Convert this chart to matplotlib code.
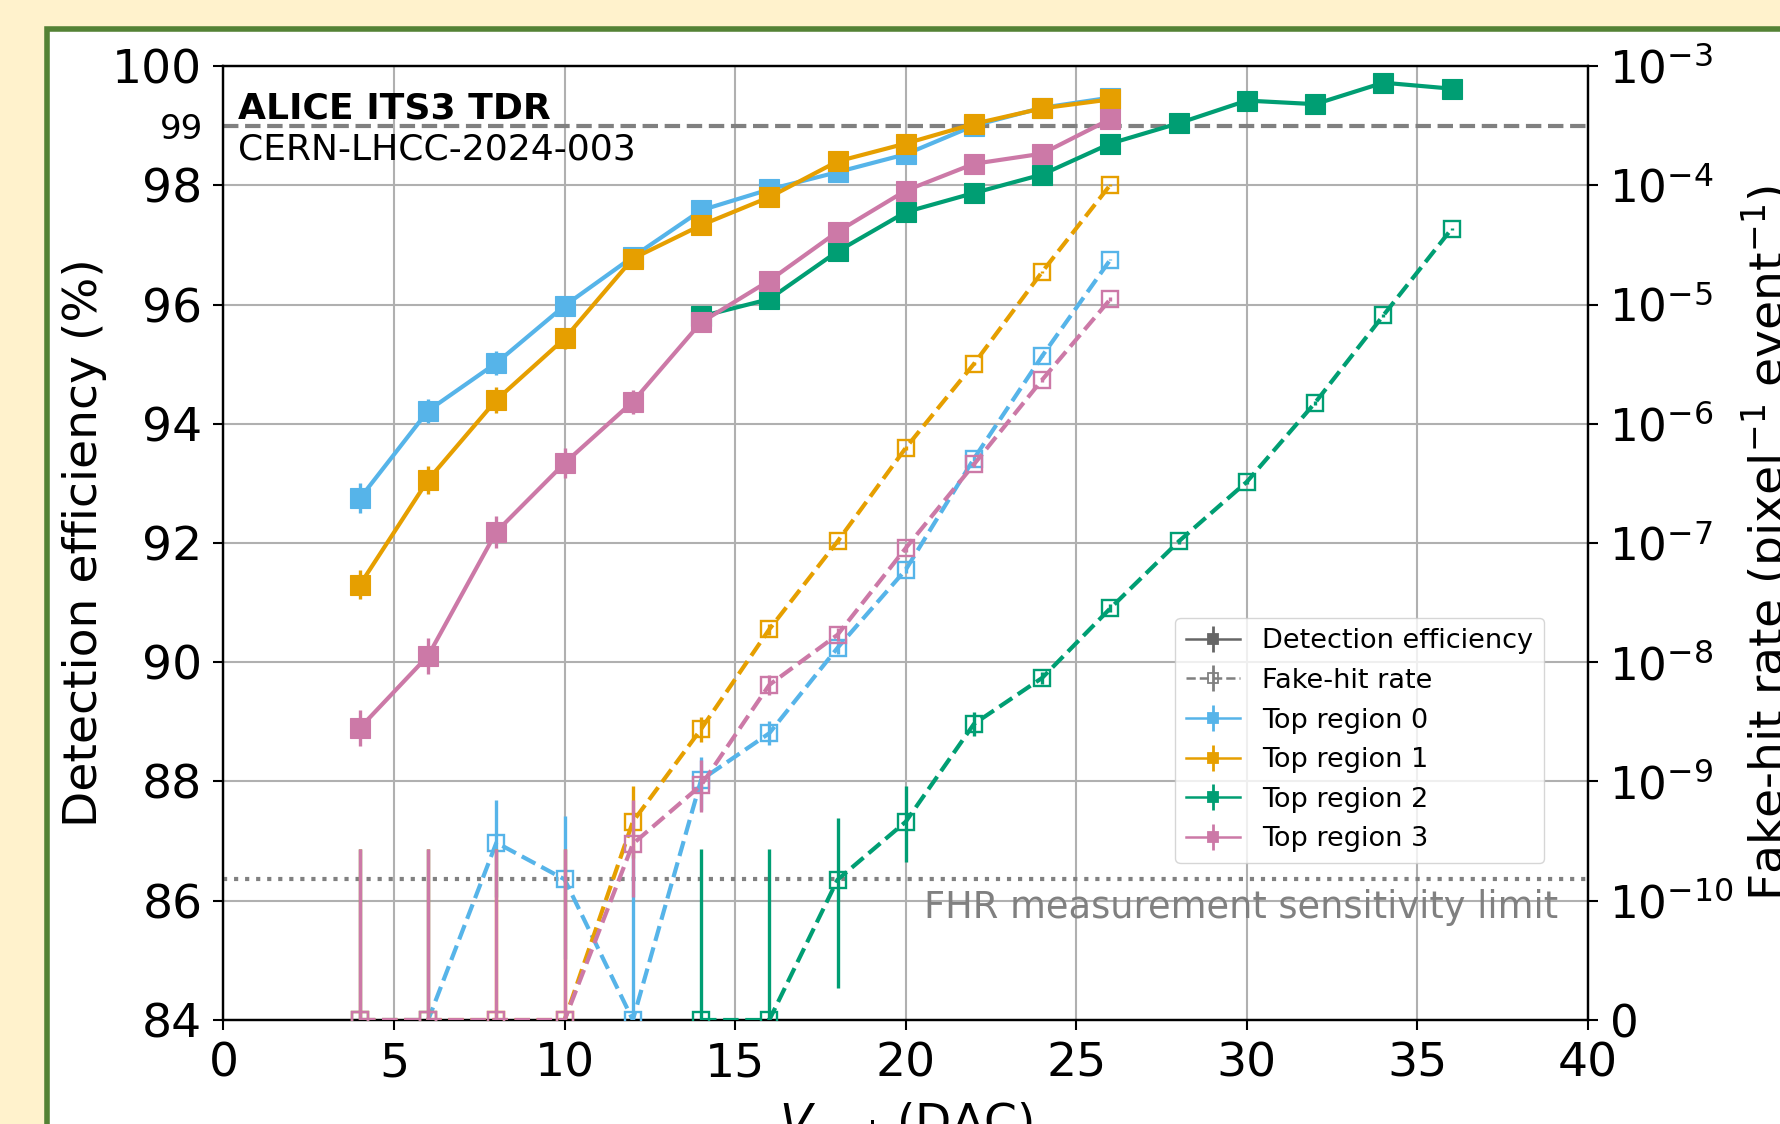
import numpy as np
import matplotlib
matplotlib.use("Agg")
import matplotlib.pyplot as plt
from matplotlib.lines import Line2D
from matplotlib.patches import Rectangle
from matplotlib.ticker import FixedLocator, NullLocator

# ---------------- data ----------------
vcast_r0 = [4, 6, 8, 10, 12, 14, 16, 18, 20, 22, 24, 26]
vcast_r1 = [4, 6, 8, 10, 12, 14, 16, 18, 20, 22, 24, 26]
vcast_r2 = [14, 16, 18, 20, 22, 24, 26, 28, 30, 32, 34, 36]
vcast_r3 = [4, 6, 8, 10, 12, 14, 16, 18, 20, 22, 24, 26]

eff_r0 = [92.75, 94.22, 95.02, 95.98, 96.80, 97.58, 97.93, 98.22, 98.52, 99.00, 99.30, 99.47]
eff_r1 = [91.30, 93.06, 94.40, 95.43, 96.77, 97.33, 97.80, 98.40, 98.70, 99.03, 99.29, 99.44]
eff_r2 = [95.80, 96.09, 96.89, 97.55, 97.87, 98.18, 98.70, 99.04, 99.42, 99.36, 99.72, 99.62]
eff_r3 = [88.90, 90.11, 92.19, 93.34, 94.37, 95.70, 96.40, 97.22, 97.91, 98.36, 98.53, 99.11]

eff_err_r0 = [0.25, 0.20, 0.20, 0.15, 0.12, 0.10, 0.10, 0.08, 0.08, 0.06, 0.05, 0.05]
eff_err_r1 = [0.24, 0.23, 0.22, 0.18, 0.14, 0.12, 0.10, 0.08, 0.08, 0.06, 0.05, 0.05]
eff_err_r2 = [0.15, 0.14, 0.12, 0.10, 0.10, 0.08, 0.07, 0.06, 0.05, 0.05, 0.04, 0.04]
eff_err_r3 = [0.30, 0.30, 0.27, 0.25, 0.20, 0.15, 0.13, 0.12, 0.10, 0.08, 0.07, 0.06]

fhr_r0 = [0, 0, 3.07e-10, 1.51e-10, 0, 1.03e-9, 2.54e-9, 1.32e-8, 5.97e-8, 5.1e-7, 3.7e-6, 2.38e-5]
fhr_r1 = [0, 0, 0, 0, 4.6e-10, 2.75e-9, 1.89e-8, 1.03e-7, 6.27e-7, 3.18e-6, 1.88e-5, 1.01e-4]
fhr_r2 = [0, 0, 1.5e-10, 4.6e-10, 3.04e-9, 7.4e-9, 2.84e-8, 1.03e-7, 3.26e-7, 1.5e-6, 8.1e-6, 4.3e-5]
fhr_r3 = [0, 0, 0, 0, 3.0e-10, 9.3e-10, 6.46e-9, 1.7e-8, 9.06e-8, 4.57e-7, 2.34e-6, 1.11e-5]

fhr_lo_r0 = [0, 0, 2.0e-10, 1.0e-10, 0, 4.5e-10, 5.2e-10, 1.5e-9, 4e-9, 2e-8, 1e-7, 4e-7]
fhr_hi_r0 = [2.72e-10, 2.72e-10, 3.9e-10, 3.6e-10, 2.72e-10, 5.9e-10, 6.6e-10, 1.8e-9, 5e-9, 2.5e-8, 1.2e-7, 5e-7]
fhr_lo_r1 = [0, 0, 0, 0, 2.3e-10, 6.0e-10, 1.9e-9, 5e-9, 2e-8, 8e-8, 3e-7, 1.5e-6]
fhr_hi_r1 = [2.72e-10, 2.72e-10, 2.72e-10, 2.72e-10, 4.5e-10, 7.5e-10, 2.1e-9, 6e-9, 2.5e-8, 1e-7, 4e-7, 2e-6]
fhr_lo_r2 = [0, 0, 1.23e-10, 2.5e-10, 6.3e-10, 8e-10, 2e-9, 5e-9, 1.5e-8, 5e-8, 2e-7, 8e-7]
fhr_hi_r2 = [2.72e-10, 2.72e-10, 3.45e-10, 4.5e-10, 8e-10, 9e-10, 2.3e-9, 6e-9, 1.8e-8, 6e-8, 2.5e-7, 1e-6]
fhr_lo_r3 = [0, 0, 0, 0, 1.92e-10, 3.7e-10, 1.1e-9, 2e-9, 6e-9, 2e-8, 8e-8, 3e-7]
fhr_hi_r3 = [2.72e-10, 2.72e-10, 2.72e-10, 2.72e-10, 4.0e-10, 5.7e-10, 1.3e-9, 2.4e-9, 7e-9, 2.5e-8, 1e-7, 4e-7]

region_labels = ["Top region 0", "Top region 1", "Top region 2", "Top region 3"]
eff_target = 99.0
fhr_limit = 1.51e-10
x_ticks = [0, 5, 10, 15, 20, 25, 30, 35, 40]
eff_ticks = [84, 86, 88, 90, 92, 94, 96, 98, 100]
fhr_ticks = [0, 1e-10, 1e-9, 1e-8, 1e-7, 1e-6, 1e-5, 1e-4, 1e-3]

# ---------------- style ----------------
colors = ["#56B4E9", "#E69F00", "#009E73", "#CC79A7"]
plt.rcParams["font.family"] = ["DejaVu Sans"]

fig = plt.figure(figsize=(17.81, 11.24), dpi=100, facecolor="#FFF2CC")
frame = Rectangle((0.0264, -0.2), 1.3, 0.9738 + 0.2, transform=fig.transFigure,
                  facecolor="white", edgecolor="#548235", linewidth=4.0, zorder=-5)
fig.add_artist(frame)

ax = fig.add_axes([0.12549, 0.09253, 0.76614, 0.84875])
ax.set_facecolor("white")
ax2 = ax.twinx()

vcasts = [vcast_r0, vcast_r1, vcast_r2, vcast_r3]
effs = [eff_r0, eff_r1, eff_r2, eff_r3]
eff_errs = [eff_err_r0, eff_err_r1, eff_err_r2, eff_err_r3]
fhrs = [fhr_r0, fhr_r1, fhr_r2, fhr_r3]
fhr_los = [fhr_lo_r0, fhr_lo_r1, fhr_lo_r2, fhr_lo_r3]
fhr_his = [fhr_hi_r0, fhr_hi_r1, fhr_hi_r2, fhr_hi_r3]

ax.axhline(eff_target, color="gray", ls="--", lw=3, zorder=2)

for i in range(4):
    ax.errorbar(vcasts[i], effs[i], yerr=eff_errs[i], color=colors[i], marker="s",
                ms=15, mew=0.8, lw=3, elinewidth=2.4, capsize=0, zorder=3 + i)

ax2.set_yscale("symlog", linthresh=1e-10, linscale=0.9)
ax2.axhline(fhr_limit, color="gray", ls=":", lw=3, zorder=1)
for i in range(4):
    ax2.errorbar(vcasts[i], fhrs[i], yerr=[fhr_los[i], fhr_his[i]], color=colors[i],
                 marker="s", mfc="none", ms=12.2, mew=1.7, ls="--", lw=3,
                 elinewidth=2.4, capsize=0, zorder=3 + i)

ax2.annotate("FHR measurement sensitivity limit", xy=(0.978, fhr_limit),
             xycoords=("axes fraction", "data"), xytext=(0, -7),
             textcoords="offset points", ha="right", va="top", color="gray",
             fontsize=26.5)

# axes setup
ax.set_xlim(0, 40)
ax.set_ylim(84, 100)
ax.xaxis.set_major_locator(FixedLocator(x_ticks))
ax.yaxis.set_major_locator(FixedLocator(eff_ticks))
ax.set_yticks([99], minor=True)
ax.set_yticklabels(["99"], minor=True)
ax.xaxis.set_minor_locator(NullLocator())
ax.tick_params(axis="both", which="major", labelsize=34, length=7.2, width=1.5, pad=8)
ax.tick_params(axis="y", which="minor", length=0, labelsize=24.5, pad=14.5)
ax.grid(True, which="major", color="#b0b0b0", lw=1.5)

ax2.set_ylim(0, 1e-3)
ax2.yaxis.set_major_locator(FixedLocator(fhr_ticks))
ax2.yaxis.set_minor_locator(NullLocator())
ax2.tick_params(axis="y", which="major", labelsize=32.5, length=7.2, width=1.5, pad=8)

for a in (ax, ax2):
    for s in a.spines.values():
        s.set_linewidth(1.6)

ax.set_xlabel(r"$V_\mathrm{cast}$ (DAC)", fontsize=34, labelpad=10.5)
ax.set_ylabel("Detection efficiency (%)", fontsize=34)
ax2.set_ylabel(r"Fake-hit rate (pixel$^{-1}$ event$^{-1}$)", fontsize=34)

ax.text(0.0106, 0.9732, "ALICE ITS3 TDR", transform=ax.transAxes, fontsize=26,
        fontweight="bold", ha="left", va="top", zorder=10)
ax.text(0.0106, 0.9306, "CERN-LHCC-2024-003", transform=ax.transAxes, fontsize=26,
        ha="left", va="top", zorder=10)

# legend
def handle(color, filled=True, ls="-"):
    main = Line2D([], [], color=color, lw=1.8, ls=ls, marker="s", ms=6.5,
                  mfc=color if filled else "none", mew=1.3)
    bar = Line2D([], [], color=color, marker="|", ms=19, mew=2.0, ls="none")
    return (main, bar)

handles = [handle("#666666"), handle("#808080", filled=False, ls="--")] + \
          [handle(c) for c in colors]
labels = ["Detection efficiency", "Fake-hit rate"] + region_labels
ax2.legend(handles, labels, loc="lower right", bbox_to_anchor=(0.9677, 0.1646),
           borderaxespad=0, fontsize=19.5)

fig.savefig("out.png", dpi=100, facecolor=fig.get_facecolor())
